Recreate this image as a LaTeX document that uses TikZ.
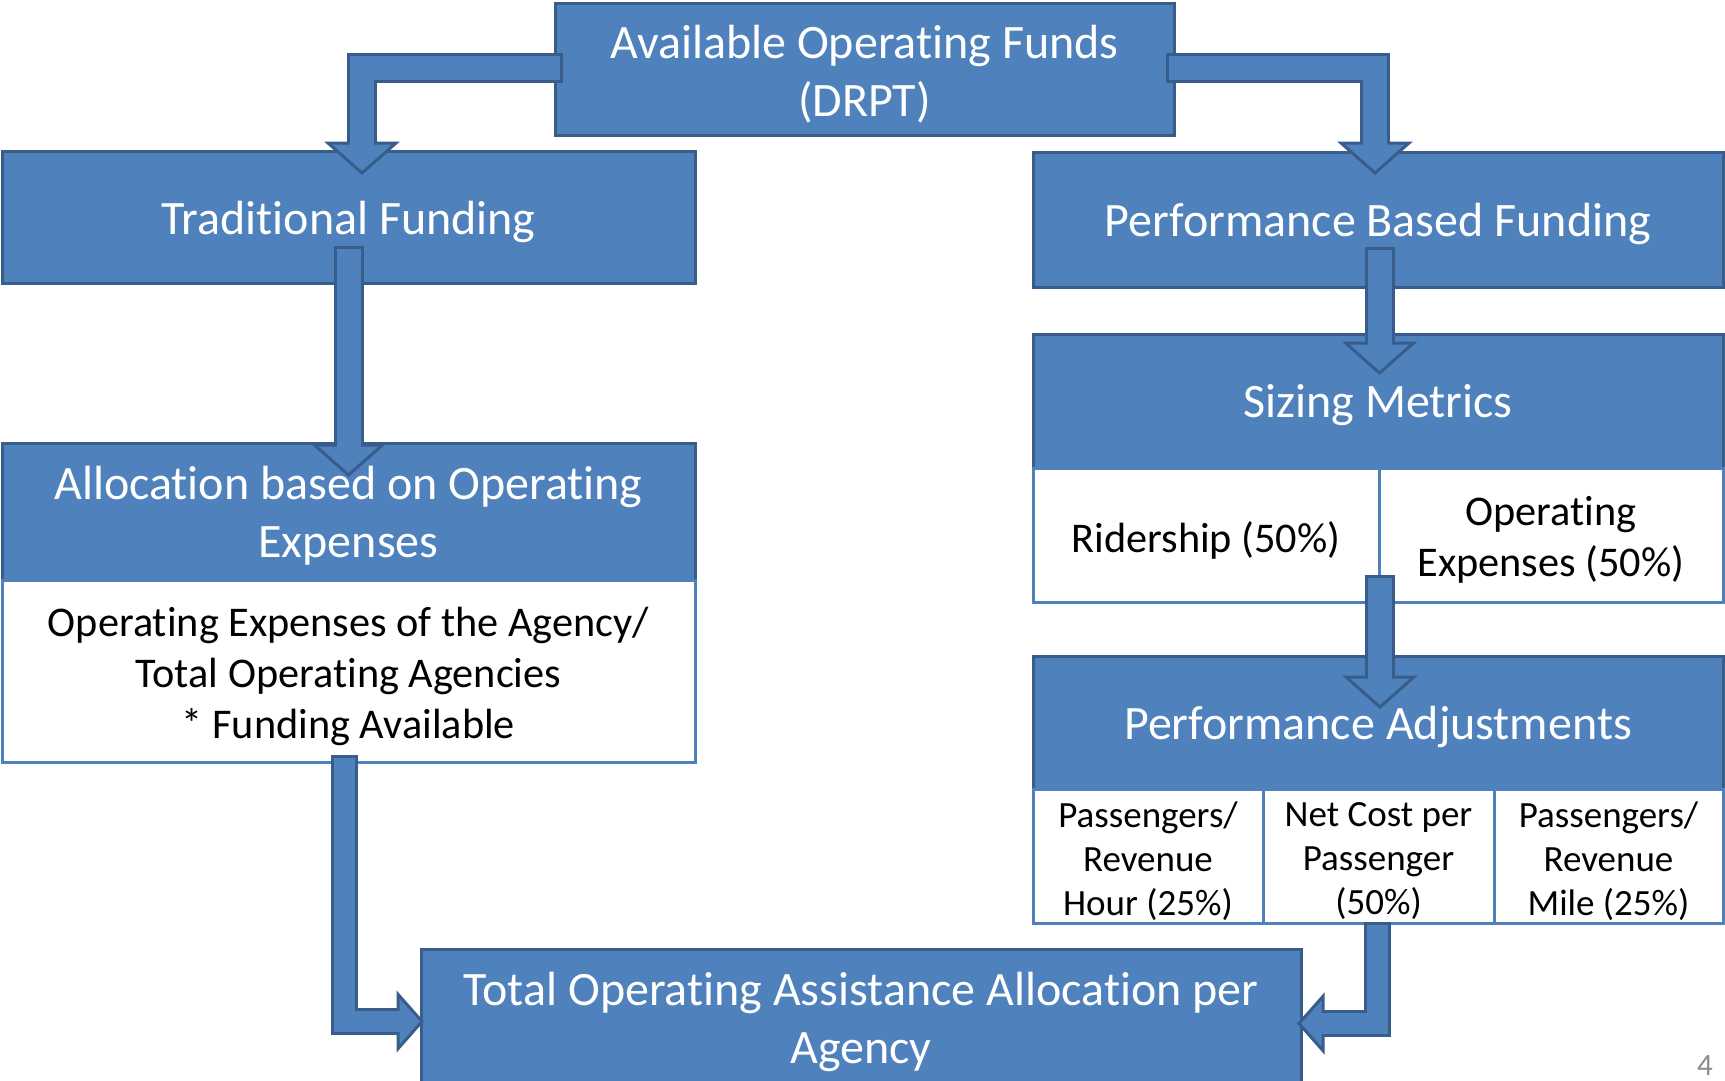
\documentclass[tikz,border=0pt]{standalone}
\usepackage{fontspec}
\setmainfont{Carlito}[Ligatures=NoCommon]
\usetikzlibrary{positioning,calc}
\definecolor{boxblue}{HTML}{4F81BD}
\definecolor{boxedge}{HTML}{385D8A}
\definecolor{pagegray}{HTML}{8C8C8C}

\tikzset{
  headtxt/.style={text=white, align=center, inner sep=0pt, yshift=-4.5pt, font=\fontsize{48}{58}\selectfont},
  celltxt/.style={text=black, align=center, inner sep=0pt, yshift=-5pt, font=\fontsize{42.3}{51}\selectfont},
  smalltxt/.style={celltxt, font=\fontsize{37}{44}\selectfont},
  head/.style={draw=boxedge, fill=boxblue, line width=3pt, inner sep=0pt, outer sep=0pt, label={[headtxt]center:#1}},
  cell/.style={draw=boxblue, fill=white, line width=3pt, inner sep=0pt, outer sep=0pt, label={[celltxt]center:#1}},
  smallcell/.style={draw=boxblue, fill=white, line width=3pt, inner sep=0pt, outer sep=0pt, minimum height=134pt, label={[smalltxt]center:#1}},
  barout/.style={draw=boxedge, line width=30pt, line join=miter},
  barin/.style={draw=boxblue, line width=24pt, line join=miter, shorten <=3pt, shorten >=-4pt},
  bhead/.pic={\draw[draw=boxedge, fill=boxblue, line width=3pt, line join=miter] (-34,0) -- (34,0) -- (0,30) -- cycle;},
}

\begin{document}
\begin{tikzpicture}[x=1pt,y=-1pt]
\useasboundingbox (0,0) rectangle (1725,1081);

% boxes
\node[head={Available Operating Funds\\(DRPT)}, minimum width=619pt, minimum height=131pt] (fund) at (864.5,69.5) {};
\node[head={Traditional Funding}, minimum width=693pt, minimum height=132pt] (trad) at (348.5,217) {};
\node[head={Performance Based Funding}, minimum width=690pt, minimum height=135pt] (perf) at (1378,219.5) {};

\node[head={Allocation based on Operating\\Expenses}, minimum width=693pt, minimum height=137pt] (allochd) at (348.5,511.5) {};
\node[cell={Operating Expenses of the Agency/\\Total Operating Agencies\\* Funding Available}, minimum width=693pt, minimum height=182pt, below=0pt of allochd] (allocbody) {};

\node[head={Sizing Metrics}, minimum width=690pt, minimum height=134pt] (size) at (1378,401) {};
\node[cell={Ridership (50\%)}, minimum width=346pt, minimum height=134pt, below right=0pt and 0pt of size.south west] (ride) {};
\node[cell={Operating\\Expenses (50\%)}, minimum width=344pt, minimum height=134pt, right=0pt of ride] (oper) {};

\node[head={Performance Adjustments}, minimum width=690pt, minimum height=133pt] (padj) at (1378,722.5) {};
\node[smallcell={Passengers/\\Revenue\\Hour (25\%)}, minimum width=230pt, below right=0pt and 0pt of padj.south west] (hour) {};
\node[smallcell={Net Cost per\\Passenger\\(50\%)}, minimum width=231pt, right=0pt of hour] (cost) {};
\node[smallcell={Passengers/\\Revenue\\Mile (25\%)}, minimum width=229pt, right=0pt of cost] (mile) {};

\node[head={Total Operating Assistance Allocation per\\Agency}, minimum width=880pt, minimum height=137pt] (total) at (861,1017.5) {};

% block arrows
\coordinate (f1) at ($(fund.west)+(8,-1.5)$);
\coordinate (f2) at ($(trad.north)+(13.5,-8)$);
\draw[barout] (f1) -| (f2);
\pic at (f2) {bhead};
\draw[barin] (f1) -| (f2);

\coordinate (g1) at ($(fund.east)+(-8,-1.5)$);
\coordinate (g2) at ($(perf.north)+(-3,-9)$);
\draw[barout] (g1) -| (g2);
\pic at (g2) {bhead};
\draw[barin] (g1) -| (g2);

\coordinate (t1) at ($(trad.center)+(0,29)$);
\coordinate (t2) at ($(allochd.north)+(0,2)$);
\draw[barout] (t1) -- (t2);
\pic at (t2) {bhead};
\draw[barin] (t1) -- (t2);

\coordinate (p1) at ($(perf.center)+(1.5,27)$);
\coordinate (p2) at ($(size.north)+(1.5,9)$);
\draw[barout] (p1) -- (p2);
\pic at (p2) {bhead};
\draw[barin] (p1) -- (p2);

\coordinate (s1) at ($(ride.south east)+(1,-27)$);
\coordinate (s2) at ($(padj.north)+(2,21)$);
\draw[barout] (s1) -- (s2);
\pic at (s2) {bhead};
\draw[barin] (s1) -- (s2);

\coordinate (a1) at ($(allocbody.south)+(-4,-7)$);
\coordinate (a2) at ($(total.west)+(-23,4)$);
\draw[barout, line width=27pt] (a1) |- (a2);
\pic[rotate=90, scale=0.8] at (a2) {bhead};
\draw[barin, line width=21pt] (a1) |- (a2);

\coordinate (c1) at ($(cost.south)+(-1,-1)$);
\coordinate (c2) at ($(total.east)+(22,6)$);
\draw[barout, line width=27pt] (c1) |- (c2);
\pic[rotate=-90, scale=0.8] at (c2) {bhead};
\draw[barin, line width=21pt] (c1) |- (c2);

% page number
\node[text=pagegray, font=\fontsize{31}{36}\selectfont] (pnum) at (1705,1066) {4};
\end{tikzpicture}
\end{document}
